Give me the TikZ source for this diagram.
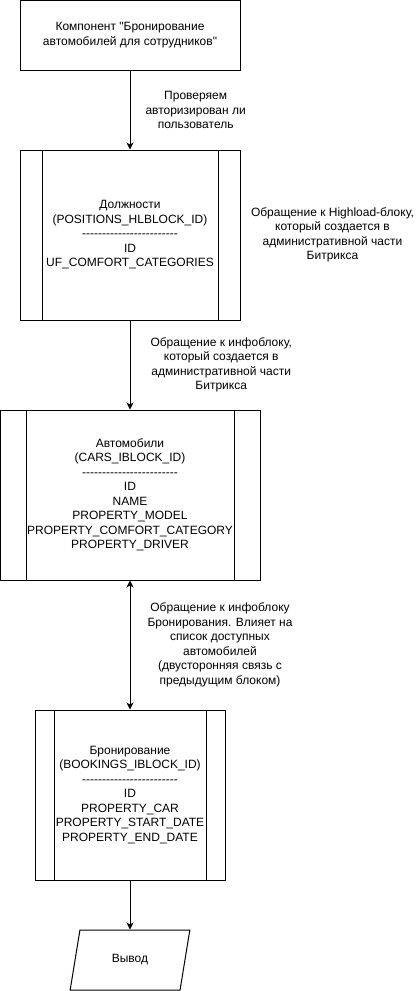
\documentclass[tikz,border=0pt]{standalone}
\usepackage{fontspec}
\setmainfont{Liberation Sans}[Ligatures=TeXOff]
\usepackage{tikz}
\usetikzlibrary{shapes,arrows,arrows.meta}
\usetikzlibrary{positioning}
\usetikzlibrary{calc}

% Define block styles
\tikzstyle{block} = [rectangle, draw, text centered, inner sep=0pt]
\tikzstyle{process} = [block, path picture={
    \draw ($(path picture bounding box.north west)!0.1!(path picture bounding box.north east)$) --
          ($(path picture bounding box.south west)!0.1!(path picture bounding box.south east)$);
    \draw ($(path picture bounding box.north west)!0.9!(path picture bounding box.north east)$) --
          ($(path picture bounding box.south west)!0.9!(path picture bounding box.south east)$);}]
\tikzstyle{io} = [trapezium, draw, trapezium left angle=71.6, trapezium right angle=108.4,
    trapezium stretches=true, minimum width=120pt, minimum height=60pt, inner sep=0pt]
\tikzstyle{line} = [draw, -{Stealth[length=7pt,width=7pt,inset=2pt]}]
\tikzstyle{twoline} = [draw, {Stealth[length=7pt,width=7pt,inset=2pt]}-{Stealth[length=7pt,width=7pt,inset=2pt]}]

\begin{document}
\begin{tikzpicture}[x=1pt,y=-1pt,line width=1pt,every node/.style={align=center,font=\fontsize{12}{14.5}\selectfont}]

\useasboundingbox (0,0) rectangle (416,991);

\node [block, minimum width=220pt, minimum height=70pt] (component) at (130,35) {Компонент "Бронирование\\автомобилей для сотрудников"};

\node [process, below of=component, node distance=200pt, minimum width=220pt, minimum height=170pt] (positions) {Должности\\(POSITIONS\_HLBLOCK\_ID)\\------------------------\\ID\\UF\_COMFORT\_CATEGORIES};
\node [right=10pt of positions, inner sep=0pt] (hlblock) {Обращение к Highload-блоку,\\который создается в\\административной части\\Битрикса};

\node [process, below of=positions, node distance=260pt, minimum width=260pt, minimum height=170pt] (cars) {Автомобили\\(CARS\_IBLOCK\_ID)\\------------------------\\ID\\NAME\\PROPERTY\_MODEL\\PROPERTY\_COMFORT\_CATEGORY\\PROPERTY\_DRIVER};

\node [process, below of=cars, node distance=300pt, minimum width=190pt, minimum height=170pt] (bookings) {Бронирование\\(BOOKINGS\_IBLOCK\_ID)\\------------------------\\ID\\PROPERTY\_CAR\\PROPERTY\_START\_DATE\\PROPERTY\_END\_DATE};

\node [io, below of=bookings, node distance=165pt] (output) {Вывод};

\draw[line] (component) -- node[pos=.50,right,inner sep=0pt,xshift=15pt] (auth) {Проверяем\\авторизирован ли\\пользователь} (positions);
\draw[line] (positions) -- node[pos=.50,right,inner sep=0pt,xshift=20pt] (iblock) {Обращение к инфоблоку,\\который создается в\\административной части\\Битрикса} (cars);
\draw[twoline] (cars) -- node[pos=.50,right,inner sep=0pt,xshift=17pt] (twoway) {Обращение к инфоблоку\\Бронирования. Влияет на\\список доступных\\автомобилей\\(двусторонняя связь с\\предыдущим блоком)} (bookings);
\draw[line] (bookings) -- (output);

\end{tikzpicture}
\end{document}
